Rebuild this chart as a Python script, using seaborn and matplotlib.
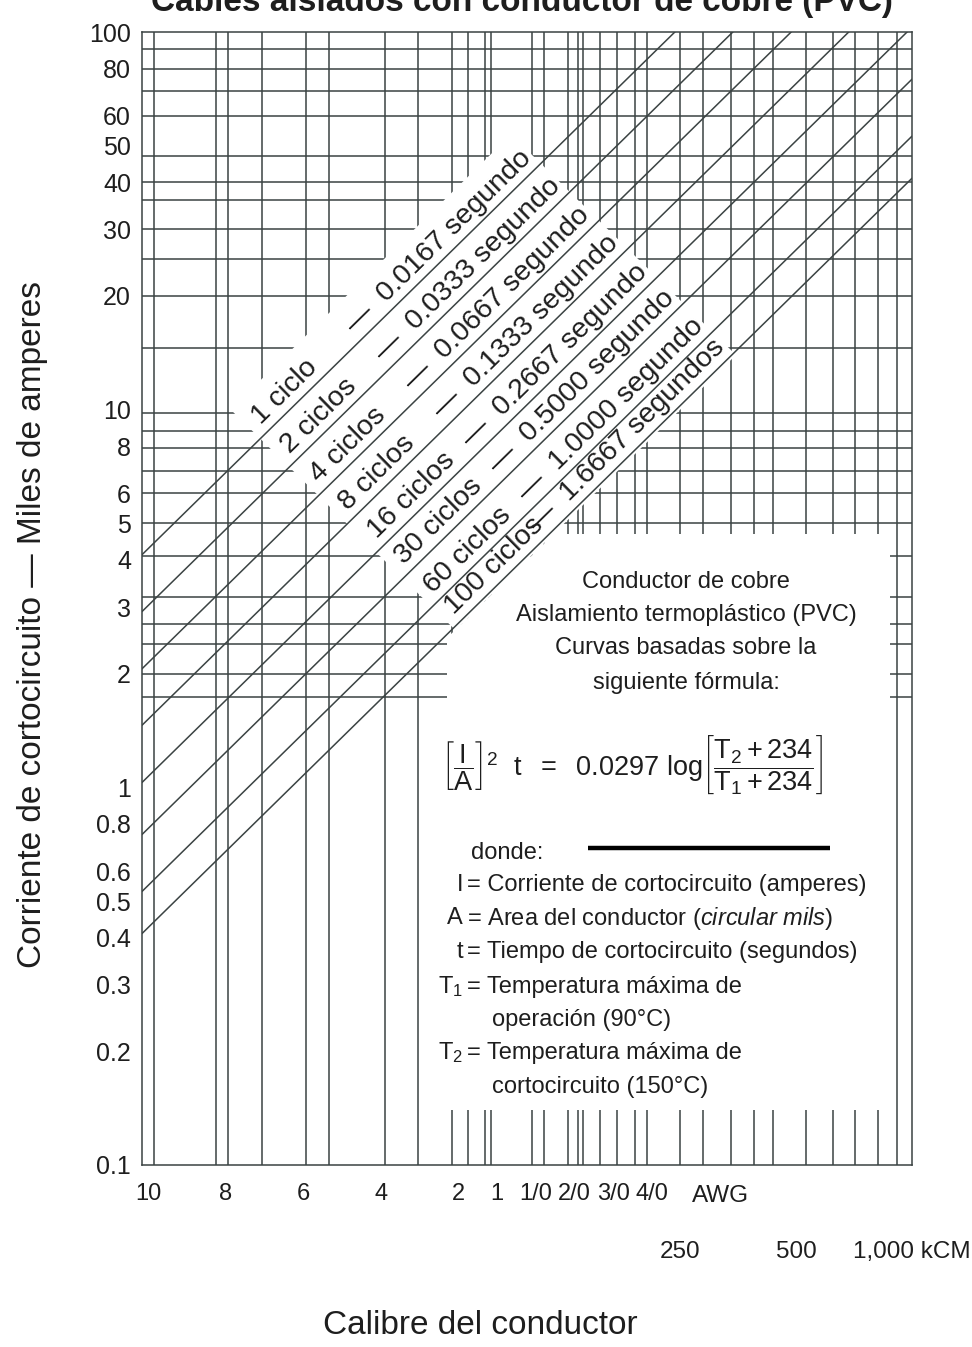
import numpy as np
import pandas as pd
import matplotlib
matplotlib.use("Agg")
import matplotlib.pyplot as plt
import matplotlib.transforms as mtransforms
from matplotlib.ticker import FixedLocator, FixedFormatter, NullLocator
import seaborn as sns

# one straight line per fault duration; current (kA) read where each line
# meets the 10,000 cmil edge and (extended) the 1,000,000 cmil edge
ciclos = ["1 ciclo", "2 ciclos", "4 ciclos", "8 ciclos", "16 ciclos",
          "30 ciclos", "60 ciclos", "100 ciclos"]
segundos = ["0.0167 segundo", "0.0333 segundo", "0.0667 segundo", "0.1333 segundo",
            "0.2667 segundo", "0.5000 segundo", "1.0000 segundo", "1.6667 segundos"]
i_at_10k = [4.13, 2.92, 2.06, 1.46, 1.03, 0.75, 0.53, 0.41]
i_at_1000k = [413, 292, 206, 146, 103, 75, 53, 41]

# printed grid of the chart (cmil and kA)
grid_cmil = [10750, 15600, 16700, 20500, 26700, 30600, 42800, 52100, 63900, 70300,
             77800, 80600, 103000, 110700, 127800, 135700, 139800, 154800, 171300,
             190800, 205000, 249700, 286400, 338800, 388800, 435500, 530500, 623600,
             711000, 815800, 914000]
grid_ka = [90, 80, 70, 60, 47, 40, 36, 30, 25, 20, 14.6, 9.8, 8.8, 7.9, 6.9, 6.0,
           5.0, 4.1, 3.2, 2.7, 2.4, 2.0, 1.73]

# axis labels
y_ticks = [0.1, 0.2, 0.3, 0.4, 0.5, 0.6, 0.8, 1, 2, 3, 4, 5, 6, 8, 10, 20, 30, 40,
           50, 60, 80, 100]
y_labels = ["0.1", "0.2", "0.3", "0.4", "0.5", "0.6", "0.8", "1", "2", "3", "4", "5",
            "6", "8", "10", "20", "30", "40", "50", "60", "80", "100"]
awg_cmil = [10380, 16510, 26240, 41740, 66360, 83690, 105600, 133100, 167800, 211600]
awg_labels = ["10", "8", "6", "4", "2", "1", "1/0", "2/0", "3/0", "4/0"]
kcmil_cmil = [250000, 500000, 1000000]
kcmil_labels = ["250", "500", "1,000 kCM"]

sns.set_theme(style="white")
plt.rcParams["font.family"] = ["Liberation Sans", "DejaVu Sans"]
plt.rcParams["mathtext.fontset"] = "custom"
plt.rcParams["mathtext.rm"] = "Liberation Sans"
plt.rcParams["mathtext.it"] = "Liberation Sans:italic"
plt.rcParams["mathtext.bf"] = "Liberation Sans:bold"

ink = "#3b4343"
txt = "#1e1e1e"

fig = plt.figure(figsize=(9.72, 13.47), dpi=100)
ax = fig.add_axes([142 / 972, 1 - 1165 / 1347, 770 / 972, 1133 / 1347])
ax.set_xscale("log")
ax.set_yscale("log")

# grid
ax.vlines(grid_cmil, 0.1, 100, color=ink, lw=1.1, zorder=1)
ax.hlines(grid_ka, 1e4, 1e6, color=ink, lw=1.1, zorder=1)

# blank areas behind the labels band and the note box
c_top, c_bot, k_start, k_end = 5.89, 0.40, 17.0, 487.0
band = []
for c, k in [(c_top, k_start), (c_top, k_end), (c_bot, k_end), (c_bot, k_start)]:
    a = np.sqrt(k / c)
    band.append((1e4 * a, c * a))
ax.fill([p[0] for p in band], [p[1] for p in band], color="white", lw=0, zorder=2)

box_top, box_bottom, box_left, box_right = 4.7, 0.14, 62000, 876900
box_x = [1e4 * box_top / c_bot, box_right, box_right, box_left, box_left]
box_y = [box_top, box_top, box_bottom, box_bottom, c_bot * box_left / 1e4]
ax.fill(box_x, box_y, color="white", lw=0, zorder=2)

# duration lines
rows = []
for name, i0, i1 in zip(ciclos, i_at_10k, i_at_1000k):
    rows.append({"ciclos": name, "cmil": 1e4, "ka": i0})
    rows.append({"ciclos": name, "cmil": 1e6, "ka": i1})
lines = pd.DataFrame(rows)
sns.lineplot(data=lines, x="cmil", y="ka", units="ciclos", estimator=None,
             color=ink, lw=1.1, sort=False, legend=False, ax=ax, zorder=3)

ax.set_xlim(1e4, 1e6)
ax.set_ylim(0.1, 100)

# ticks
ax.xaxis.set_major_locator(FixedLocator(awg_cmil))
ax.xaxis.set_major_formatter(FixedFormatter(awg_labels))
ax.xaxis.set_minor_locator(FixedLocator(kcmil_cmil))
ax.xaxis.set_minor_formatter(FixedFormatter(kcmil_labels))
ax.yaxis.set_major_locator(FixedLocator(y_ticks))
ax.yaxis.set_major_formatter(FixedFormatter(y_labels))
ax.yaxis.set_minor_locator(NullLocator())
ax.tick_params(axis="both", which="both", length=0, colors=txt)
ax.tick_params(axis="x", which="major", pad=13, labelsize=17)
ax.tick_params(axis="x", which="minor", pad=55, labelsize=17.5)
ax.tick_params(axis="y", pad=8, labelsize=18)
for s in ax.spines.values():
    s.set_color(ink)
    s.set_linewidth(1.1)

ax.set_xlabel("Calibre del conductor", fontsize=24, color=txt)
ax.xaxis.set_label_coords(0.44, -0.128)
ax.set_ylabel("Corriente de cortocircuito — Miles de amperes", fontsize=24, color=txt)
ax.yaxis.set_label_coords(-0.122, 0.477)


def at(px, py):
    return (px - 142) / 770, (1165 - py) / 1133


ax.text(*at(692, 1196), "AWG", ha="left", va="center", fontsize=17.5, color=txt,
        transform=ax.transAxes)

# labels along the lines
p0 = ax.transData.transform((1e4, i_at_10k[0]))
p1 = ax.transData.transform((1e6, i_at_1000k[0]))
ang = np.degrees(np.arctan2(p1[1] - p0[1], p1[0] - p0[0]))
th = np.radians(ang)
lift = mtransforms.offset_copy(ax.transData, fig=fig, x=-2.0 * np.sin(th),
                               y=2.0 * np.cos(th), units="points")
for name, sec, i0, i1 in zip(ciclos, segundos, i_at_10k, i_at_1000k):
    m = np.log10(i1 / i0) / 2
    a_s = (18.5 / i0) ** (1 / (1 + m))
    a_e = (475.0 / i0) ** (1 / (1 + m))
    ax.text(1e4 * a_s, i0 * a_s ** m, name, rotation=ang, rotation_mode="anchor",
            ha="left", va="bottom", fontsize=20.5, color=txt, transform=lift, zorder=4)
    ax.text(1e4 * a_e, i0 * a_e ** m, "—  " + sec, rotation=ang, rotation_mode="anchor",
            ha="right", va="bottom", fontsize=20.5, color=txt, transform=lift, zorder=4)

# note box
for s, py in [("Conductor de cobre", 582), ("Aislamiento termoplástico (PVC)", 615),
              ("Curvas basadas sobre la", 648), ("siguiente fórmula:", 683)]:
    ax.text(*at(686, py), s, ha="center", va="center", fontsize=17, color=txt,
            transform=ax.transAxes, zorder=4)

formula = (r"$\left[\dfrac{\mathrm{I}}{\mathrm{A}}\right]^{2}\ \ \mathrm{t}\ \ =\ \ 0.0297\ "
           r"\mathrm{log}\left[\dfrac{\mathrm{T_2 + 234}}{\mathrm{T_1 + 234}}\right]$")
ax.text(*at(632, 765), formula, ha="center", va="center", fontsize=19.5, color=txt,
        transform=ax.transAxes, zorder=4)

ax.text(*at(507, 853), "donde:", ha="center", va="center", fontsize=17, color=txt,
        transform=ax.transAxes, zorder=4)
x0, y0 = at(588, 848)
x1, _ = at(830, 848)
ax.plot([x0, x1], [y0, y0], color="black", lw=3.2, solid_capstyle="butt",
        transform=ax.transAxes, zorder=4)

defs = [("I", "= Corriente de cortocircuito (amperes)", 885),
        ("A", "= Area del conductor ($\\mathit{circular\\ mils}$)", 918),
        ("t", "= Tiempo de cortocircuito (segundos)", 952),
        ("T$_1$", "= Temperatura máxima de", 987),
        ("T$_2$", "= Temperatura máxima de", 1053)]
for sym, s, py in defs:
    ax.text(*at(463, py), sym, ha="right", va="center", fontsize=17, color=txt,
            transform=ax.transAxes, zorder=4)
    ax.text(*at(467, py), s, ha="left", va="center", fontsize=17, color=txt,
            transform=ax.transAxes, zorder=4)
for s, py in [("operación (90°C)", 1020), ("cortocircuito (150°C)", 1087)]:
    ax.text(*at(492, py), s, ha="left", va="center", fontsize=17, color=txt,
            transform=ax.transAxes, zorder=4)

fig.text(522 / 972, 1 - 11 / 1347, "Cables aislados con conductor de cobre (PVC)",
         ha="center", va="baseline", fontsize=24, fontweight="bold", color=txt)

fig.savefig("out.png", dpi=100)
